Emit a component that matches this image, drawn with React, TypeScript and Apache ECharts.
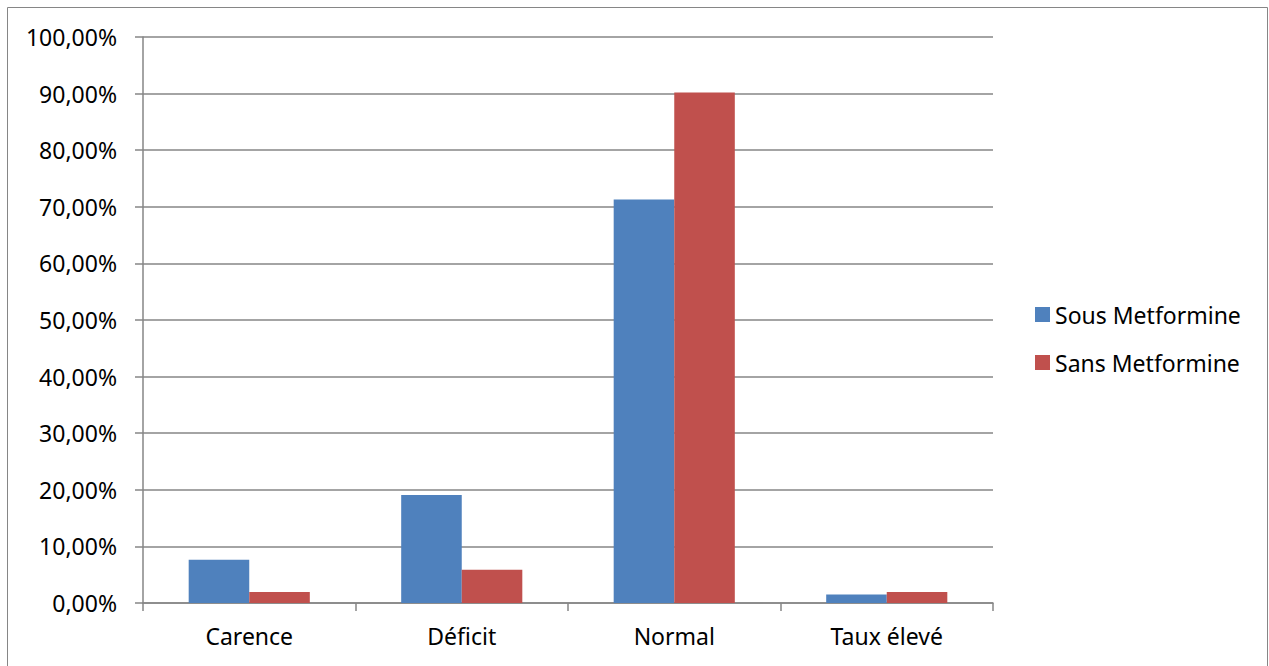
import React, { useEffect, useRef } from "react";
import * as echarts from "echarts";

const categories = ["Carence", "Déficit", "Normal", "Taux élevé"];
const sousMetformine = [7.64, 19.1, 71.3, 1.5];
const sansMetformine = [1.96, 5.88, 90.2, 1.96];
const seriesNames = ["Sous Metformine", "Sans Metformine"];

const FONT = "'Noto Sans', sans-serif";
const AXIS_GRAY = "#868686";
const FONT_SIZE = 23;

export default function App() {
  const ref = useRef<HTMLDivElement>(null);

  useEffect(() => {
    document.body.style.margin = "0";
    const chart = echarts.init(ref.current!, null, { renderer: "svg" });
    chart.setOption({
      animation: false,
      backgroundColor: "#ffffff",
      textStyle: { fontFamily: FONT },
      graphic: [
        {
          type: "rect",
          shape: { x: 7.5, y: 7.5, width: 1260, height: 680 },
          style: { fill: "none", stroke: AXIS_GRAY, lineWidth: 1 },
          silent: true,
        },
      ],
      grid: { left: 143, right: 276, top: 37, bottom: 63 },
      legend: {
        orient: "vertical",
        left: 1030,
        top: 298,
        itemWidth: 15,
        itemHeight: 15,
        itemGap: 25,
        icon: "rect",
        textStyle: { fontFamily: FONT, fontSize: FONT_SIZE, color: "#000" },
        data: seriesNames,
      },
      xAxis: {
        type: "category",
        data: categories,
        axisLine: { lineStyle: { color: AXIS_GRAY, width: 1.5 } },
        axisTick: { show: true, length: 8, lineStyle: { color: AXIS_GRAY, width: 1.5 } },
        axisLabel: { color: "#000", fontSize: FONT_SIZE, fontFamily: FONT, margin: 21 },
      },
      yAxis: {
        type: "value",
        min: 0,
        max: 100,
        interval: 10,
        axisLine: { show: true, lineStyle: { color: AXIS_GRAY, width: 1.5 } },
        axisTick: { show: true, length: 8, lineStyle: { color: AXIS_GRAY, width: 1.5 } },
        splitLine: { lineStyle: { color: AXIS_GRAY, width: 1.5 } },
        axisLabel: {
          color: "#000",
          fontSize: FONT_SIZE,
          fontFamily: FONT,
          margin: 26,
          formatter: (v: number) => v.toFixed(2).replace(".", ",") + "%",
        },
      },
      series: [
        {
          name: seriesNames[0],
          type: "bar",
          data: sousMetformine,
          itemStyle: { color: "#4F81BD" },
          barGap: "0%",
          barCategoryGap: "43%",
        },
        {
          name: seriesNames[1],
          type: "bar",
          data: sansMetformine,
          itemStyle: { color: "#C0504D" },
          barGap: "0%",
          barCategoryGap: "43%",
        },
      ],
    });
    return () => chart.dispose();
  }, []);

  return (
    <div
      ref={ref}
      style={{ position: "absolute", left: 0, top: 0, width: 1269, height: 666 }}
    />
  );
}
